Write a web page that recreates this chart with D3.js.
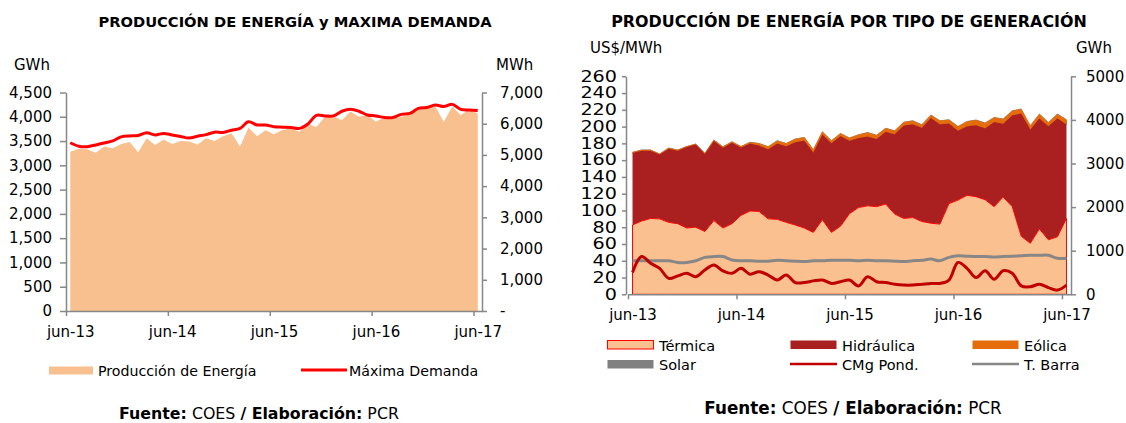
<!DOCTYPE html>
<html>
<head>
<meta charset="utf-8">
<script src="https://cdn.jsdelivr.net/npm/d3@7"></script>
<style>
  body { margin: 0; background: #fff; }
  svg { font-family: "DejaVu Sans", sans-serif; }
  .axis path, .axis line { stroke: #878787; stroke-width: 1.5; }
  .axis text { fill: #000; font-size: 15px; font-family: "DejaVu Sans", sans-serif; }
  .title { font-weight: bold; }
</style>
</head>
<body>
<svg id="chart" width="1126" height="423"></svg>
<script>
const months = ("jun-13 jul-13 ago-13 sep-13 oct-13 nov-13 dic-13 " +
  "ene-14 feb-14 mar-14 abr-14 may-14 jun-14 jul-14 ago-14 sep-14 oct-14 nov-14 dic-14 " +
  "ene-15 feb-15 mar-15 abr-15 may-15 jun-15 jul-15 ago-15 sep-15 oct-15 nov-15 dic-15 " +
  "ene-16 feb-16 mar-16 abr-16 may-16 jun-16 jul-16 ago-16 sep-16 oct-16 nov-16 dic-16 " +
  "ene-17 feb-17 mar-17 abr-17 may-17 jun-17").split(" ");
const tickMonths = ["jun-13", "jun-14", "jun-15", "jun-16", "jun-17"];

// left chart: GWh (production) and MW (max demand)
const produccion = [3280,3340,3330,3260,3390,3350,3440,3480,3270,3560,3420,3530,3440,3500,3490,3430,3560,3500,3600,3660,3390,3780,3600,3720,3640,3730,3760,3690,3850,3790,4000,4010,3930,4110,4000,4040,3900,3990,3960,4000,4040,4150,4220,4210,3900,4210,4030,4160,4060];
const maxDemanda = [5390,5280,5265,5320,5380,5450,5580,5610,5620,5710,5640,5690,5640,5590,5540,5600,5650,5730,5720,5790,5850,6060,5960,5960,5905,5890,5880,5850,5990,6270,6250,6250,6400,6460,6400,6280,6250,6200,6200,6300,6330,6490,6520,6600,6550,6620,6460,6440,6420];

// right chart: GWh by generation type, US$/MWh prices
const termica = [1590,1680,1740,1730,1650,1620,1520,1540,1440,1690,1520,1620,1810,1910,1900,1730,1720,1650,1590,1520,1420,1710,1420,1560,1850,1990,2030,2010,2070,1840,1740,1760,1670,1630,1610,2080,2160,2270,2240,2170,2010,2230,2010,1330,1170,1500,1250,1320,1740];
const hidraulica = [1651,1615,1555,1474,1691,1675,1858,1893,1778,1827,1841,1855,1558,1550,1510,1594,1736,1745,1900,2007,1835,1957,2046,2069,1673,1594,1592,1552,1657,1832,2132,2140,2150,2412,2292,1835,1592,1587,1637,1639,1939,1680,2096,2814,2608,2540,2604,2715,2155];
const eolica = [8,8,8,8,8,8,8,8,8,15,18,18,18,18,45,55,60,60,65,65,55,55,50,55,55,70,80,80,75,70,70,70,60,60,70,80,90,100,110,110,100,100,95,95,80,85,80,90,100];
const solar = [18,18,18,18,18,18,18,18,18,18,18,18,18,18,18,18,18,18,18,18,18,18,18,18,18,18,18,18,18,18,18,20,20,20,20,20,20,20,20,20,20,20,20,20,20,20,20,20,20];
const cmgPond = [26,45,37,31,19,22,25,21,29,35,28,25,31,24,27,23,17,23,14,14,16,17,13,15,17,10,21,15,14,12,11,11,12,13,13,17,38,31,20,28,18,28,25,10,9,12,8,5,11];
const tBarra = [40,40,40,40,40,38,38,40,44,45,45,41,40,40,39.5,39.5,40.5,40,39.5,39,40,40,40.5,40.5,40.5,40,40.5,40,40,39.5,39,40,40.5,42,40,44,46,45.5,45,45,44.5,45,45.5,46,46.5,46.5,46.5,43,43];

const svg = d3.select("#chart");
const n = months.length;

function monthAxes(g, x, y0) {
  const ticksAt = tickMonths.map(m => months.indexOf(m));
  g.append("g")
    .attr("class", "axis")
    .attr("transform", "translate(0," + y0 + ")")
    .call(d3.axisBottom(x).tickValues(ticksAt).tickSize(5).tickSizeOuter(0).tickFormat(""));
  g.append("g")
    .attr("class", "axis")
    .attr("transform", "translate(0," + y0 + ")")
    .call(d3.axisBottom(x).tickValues(ticksAt.map(i => i + 0.5)).tickSize(0).tickPadding(15)
      .tickFormat(d => months[d - 0.5]))
    .select(".domain").remove();
}

// ---------- left chart ----------
(function() {
  const x = d3.scaleLinear().domain([0, n]).range([66, 482]);
  const y = d3.scaleLinear().domain([0, 4500]).range([311, 92.5]);
  const y2 = d3.scaleLinear().domain([0, 7000]).range([311, 92.5]);
  const g = svg.append("g");

  g.append("path")
    .datum(produccion)
    .attr("fill", "#F9C08F")
    .attr("d", d3.area().x((d, i) => x(i + 0.5)).y0(y(0)).y1(d => y(d)));

  g.append("path")
    .datum(maxDemanda)
    .attr("fill", "none")
    .attr("stroke", "#FF0000")
    .attr("stroke-width", 3)
    .attr("d", d3.line().x((d, i) => x(i + 0.5)).y(d => y2(d)).curve(d3.curveCatmullRom));

  g.append("g")
    .attr("class", "axis")
    .attr("transform", "translate(66,0)")
    .call(d3.axisLeft(y).tickValues(d3.range(0, 4501, 500)).tickSize(6).tickSizeOuter(0)
      .tickPadding(8).tickFormat(d3.format(",")));
  g.append("g")
    .attr("class", "axis")
    .attr("transform", "translate(482,0)")
    .call(d3.axisRight(y2).tickValues(d3.range(0, 7001, 1000)).tickSize(5).tickSizeOuter(0)
      .tickPadding(13).tickFormat(d => d === 0 ? " -" : d3.format(",")(d)));
  monthAxes(g, x, 311);

  svg.append("text").attr("class", "title").attr("x", 295).attr("y", 27)
    .attr("text-anchor", "middle").style("font-size", "14.7px")
    .text("PRODUCCIÓN DE ENERGÍA y MAXIMA DEMANDA");
  svg.append("text").attr("x", 14).attr("y", 70).style("font-size", "15px").text("GWh");
  svg.append("text").attr("x", 496).attr("y", 70).style("font-size", "15px").text("MWh");

  // legend
  svg.append("rect").attr("x", 49).attr("y", 366.5).attr("width", 44).attr("height", 8).attr("fill", "#F9C08F");
  svg.append("text").attr("x", 98).attr("y", 375.5).style("font-size", "14.2px").text("Producción de Energía");
  svg.append("line").attr("x1", 301).attr("x2", 347).attr("y1", 370).attr("y2", 370)
    .attr("stroke", "#FF0000").attr("stroke-width", 3);
  svg.append("text").attr("x", 349).attr("y", 375.5).style("font-size", "14.2px").text("Máxima Demanda");
})();

// ---------- right chart ----------
(function() {
  const x = d3.scaleLinear().domain([0, n]).range([628, 1071]);
  const yP = d3.scaleLinear().domain([0, 260]).range([294.3, 76.3]);
  const yG = d3.scaleLinear().domain([0, 5000]).range([294.3, 76.3]);
  const g = svg.append("g");

  const table = months.map((m, i) => ({
    mes: m, termica: termica[i], hidraulica: hidraulica[i], eolica: eolica[i], solar: solar[i]
  }));
  const series = d3.stack().keys(["termica", "hidraulica", "eolica", "solar"])(table);
  const styles = {
    termica: {fill: "#FAC090", stroke: "#FF0000", sw: 1},
    hidraulica: {fill: "#AA1F1F", stroke: "none", sw: 0},
    eolica: {fill: "#E46C0A", stroke: "#E46C0A", sw: 1},
    solar: {fill: "#808080", stroke: "none", sw: 0}
  };
  const area = d3.area()
    .x((d, i) => x(i + 0.5))
    .y0(d => yG(d[0]))
    .y1(d => yG(d[1]));
  // draw top layers first so the thermal outline stays visible
  g.selectAll("path.layer")
    .data(series.slice().reverse())
    .enter().append("path")
    .attr("class", "layer")
    .attr("fill", d => styles[d.key].fill)
    .attr("stroke", d => styles[d.key].stroke)
    .attr("stroke-width", d => styles[d.key].sw)
    .attr("d", area);

  const line = d3.line().x((d, i) => x(i + 0.5)).y(d => yP(d)).curve(d3.curveCatmullRom);
  g.append("path").datum(tBarra)
    .attr("fill", "none").attr("stroke", "#878787").attr("stroke-width", 3).attr("d", line);
  g.append("path").datum(cmgPond)
    .attr("fill", "none").attr("stroke", "#C00000").attr("stroke-width", 3).attr("d", line);

  g.append("g")
    .attr("class", "axis")
    .attr("transform", "translate(626,0)")
    .call(d3.axisLeft(yP).tickValues(d3.range(0, 261, 20)).tickSize(4).tickSizeOuter(0).tickPadding(5))
    .selectAll("text")
    .attr("textLength", d => String(d).length * 12.2)
    .attr("lengthAdjust", "spacingAndGlyphs");
  g.append("g")
    .attr("class", "axis")
    .attr("transform", "translate(1071,0)")
    .call(d3.axisRight(yG).tickValues(d3.range(0, 5001, 1000)).tickSize(5).tickSizeOuter(0)
      .tickPadding(10).tickFormat(d3.format("d")));
  monthAxes(g, x, 294.3);

  svg.append("text").attr("class", "title").attr("x", 849).attr("y", 27)
    .attr("text-anchor", "middle").style("font-size", "15.9px")
    .text("PRODUCCIÓN DE ENERGÍA POR TIPO DE GENERACIÓN");
  svg.append("text").attr("x", 590).attr("y", 53).style("font-size", "15px").text("US$/MWh");
  svg.append("text").attr("x", 1076).attr("y", 53).style("font-size", "15px").text("GWh");

  // legend, two rows of three
  const legend = [
    {name: "Térmica", type: "rect", fill: "#FAC090", stroke: "#FF0000"},
    {name: "Hidráulica", type: "rect", fill: "#AA1F1F"},
    {name: "Eólica", type: "rect", fill: "#E46C0A"},
    {name: "Solar", type: "rect", fill: "#808080"},
    {name: "CMg Pond.", type: "line", stroke: "#C00000"},
    {name: "T. Barra", type: "line", stroke: "#878787"}
  ];
  const colX = [607, 790, 972];
  const lg = svg.selectAll("g.leg").data(legend).enter().append("g")
    .attr("class", "leg")
    .attr("transform", (d, i) => "translate(" + colX[i % 3] + "," + (340 + Math.floor(i / 3) * 19.5) + ")");
  lg.filter(d => d.type === "rect").append("rect")
    .attr("x", 0.5).attr("y", 0.5).attr("width", 46).attr("height", 8.5)
    .attr("fill", d => d.fill)
    .attr("stroke", d => d.stroke || "none");
  lg.filter(d => d.type === "line").append("line")
    .attr("x1", 0).attr("x2", 47).attr("y1", 4.5).attr("y2", 4.5)
    .attr("stroke", d => d.stroke).attr("stroke-width", 2.7);
  lg.append("text").attr("x", 52).attr("y", 10.5).style("font-size", "14.5px").text(d => d.name);
})();

// ---------- sources ----------
function fuente(cx, y, size) {
  const t = svg.append("text").attr("x", cx).attr("y", y).attr("text-anchor", "middle")
    .style("font-size", size + "px");
  t.append("tspan").style("font-weight", "bold").text("Fuente:");
  t.append("tspan").text(" COES ");
  t.append("tspan").style("font-weight", "bold").text("/ Elaboración:");
  t.append("tspan").text(" PCR");
}
fuente(259, 419, 15.8);
fuente(853, 414, 16.8);
</script>
</body>
</html>
